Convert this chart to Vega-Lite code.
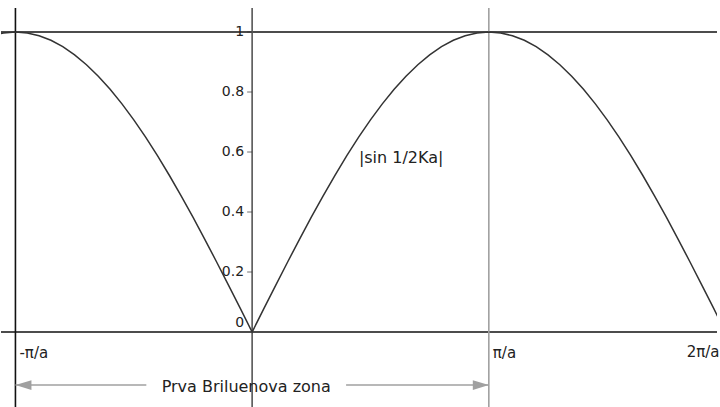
{
  "$schema": "https://vega.github.io/schema/vega-lite/v6.json",
  "width": 720,
  "height": 407,
  "autosize": {"type": "fit", "contains": "padding"},
  "padding": 0,
  "background": "white",
  "config": {"view": {"stroke": null}, "font": "DejaVu Sans"},
  "datasets": {
    "curve": [
      {"k": -1.10, "v": 0.9877}, {"k": -1.05, "v": 0.9969}, {"k": -1.00, "v": 1.0},
      {"k": -0.95, "v": 0.9969}, {"k": -0.90, "v": 0.9877}, {"k": -0.85, "v": 0.9724},
      {"k": -0.80, "v": 0.9511}, {"k": -0.75, "v": 0.9239}, {"k": -0.70, "v": 0.8910},
      {"k": -0.65, "v": 0.8526}, {"k": -0.60, "v": 0.8090}, {"k": -0.55, "v": 0.7604},
      {"k": -0.50, "v": 0.7071}, {"k": -0.45, "v": 0.6494}, {"k": -0.40, "v": 0.5878},
      {"k": -0.35, "v": 0.5225}, {"k": -0.30, "v": 0.4540}, {"k": -0.25, "v": 0.3827},
      {"k": -0.20, "v": 0.3090}, {"k": -0.15, "v": 0.2334}, {"k": -0.10, "v": 0.1564},
      {"k": -0.05, "v": 0.0785}, {"k": 0.00, "v": 0.0},
      {"k": 0.05, "v": 0.0785}, {"k": 0.10, "v": 0.1564}, {"k": 0.15, "v": 0.2334},
      {"k": 0.20, "v": 0.3090}, {"k": 0.25, "v": 0.3827}, {"k": 0.30, "v": 0.4540},
      {"k": 0.35, "v": 0.5225}, {"k": 0.40, "v": 0.5878}, {"k": 0.45, "v": 0.6494},
      {"k": 0.50, "v": 0.7071}, {"k": 0.55, "v": 0.7604}, {"k": 0.60, "v": 0.8090},
      {"k": 0.65, "v": 0.8526}, {"k": 0.70, "v": 0.8910}, {"k": 0.75, "v": 0.9239},
      {"k": 0.80, "v": 0.9511}, {"k": 0.85, "v": 0.9724}, {"k": 0.90, "v": 0.9877},
      {"k": 0.95, "v": 0.9969}, {"k": 1.00, "v": 1.0}, {"k": 1.05, "v": 0.9969},
      {"k": 1.10, "v": 0.9877}, {"k": 1.15, "v": 0.9724}, {"k": 1.20, "v": 0.9511},
      {"k": 1.25, "v": 0.9239}, {"k": 1.30, "v": 0.8910}, {"k": 1.35, "v": 0.8526},
      {"k": 1.40, "v": 0.8090}, {"k": 1.45, "v": 0.7604}, {"k": 1.50, "v": 0.7071},
      {"k": 1.55, "v": 0.6494}, {"k": 1.60, "v": 0.5878}, {"k": 1.65, "v": 0.5225},
      {"k": 1.70, "v": 0.4540}, {"k": 1.75, "v": 0.3827}, {"k": 1.80, "v": 0.3090},
      {"k": 1.85, "v": 0.2334}, {"k": 1.90, "v": 0.1564}, {"k": 1.95, "v": 0.0785},
      {"k": 2.00, "v": 0.0}
    ],
    "hlines": [{"v": 0}, {"v": 1}],
    "vlines": [
      {"k": -1, "from": -0.3, "to": 1.08, "kind": "edge"},
      {"k": 0, "from": -0.3, "to": 1.08, "kind": "axis"},
      {"k": 1, "from": -0.3, "to": 1.08, "kind": "zone"}
    ],
    "yticks": [
      {"v": 0.2, "t": "0.2"}, {"v": 0.4, "t": "0.4"}, {"v": 0.6, "t": "0.6"},
      {"v": 0.8, "t": "0.8"}, {"v": 1, "t": "1"}
    ],
    "xticks": [{"k": -1, "t": "-π/a"}, {"k": 1, "t": "π/a"}],
    "arrow": [
      {"from": -1, "to": -0.447, "v": -0.177},
      {"from": 0.397, "to": 1, "v": -0.177}
    ]
  },
  "encoding": {
    "x": {"type": "quantitative", "scale": {"domain": [-1.061, 1.964], "nice": false, "zero": false}, "axis": null},
    "y": {"type": "quantitative", "scale": {"domain": [-0.25, 1.1067], "nice": false, "zero": false}, "axis": null}
  },
  "layer": [
    {
      "data": {"name": "hlines"},
      "mark": {"type": "rule", "color": "#111", "strokeWidth": 1.6},
      "encoding": {"y": {"field": "v", "type": "quantitative"}}
    },
    {
      "data": {"name": "vlines"},
      "mark": {"type": "rule", "strokeWidth": 1.6, "clip": true},
      "encoding": {
        "x": {"field": "k", "type": "quantitative"},
        "y": {"field": "from", "type": "quantitative"},
        "y2": {"field": "to"},
        "color": {
          "field": "kind", "type": "nominal", "legend": null,
          "scale": {"domain": ["edge", "axis", "zone"], "range": ["#111111", "#555555", "#a0a0a0"]}
        }
      }
    },
    {
      "data": {"name": "curve"},
      "mark": {"type": "line", "color": "#333", "strokeWidth": 1.5, "clip": true},
      "encoding": {
        "x": {"field": "k", "type": "quantitative"},
        "y": {"field": "v", "type": "quantitative"}
      }
    },
    {
      "data": {"name": "yticks"},
      "mark": {"type": "tick", "orient": "horizontal", "size": 5, "thickness": 1, "color": "#333", "xOffset": -2.5},
      "encoding": {
        "x": {"datum": 0, "type": "quantitative"},
        "y": {"field": "v", "type": "quantitative"}
      }
    },
    {
      "data": {"name": "yticks"},
      "mark": {"type": "text", "align": "right", "baseline": "middle", "dx": -8, "fontSize": 14, "color": "#222"},
      "encoding": {
        "x": {"datum": 0, "type": "quantitative"},
        "y": {"field": "v", "type": "quantitative"},
        "text": {"field": "t"}
      }
    },
    {
      "data": {"values": [{"v": 0, "t": "0"}]},
      "mark": {"type": "text", "align": "right", "baseline": "bottom", "dx": -8, "dy": -2, "fontSize": 14, "color": "#222"},
      "encoding": {
        "x": {"datum": 0, "type": "quantitative"},
        "y": {"field": "v", "type": "quantitative"},
        "text": {"field": "t"}
      }
    },
    {
      "data": {"name": "xticks"},
      "mark": {"type": "text", "align": "left", "baseline": "middle", "dx": 4, "dy": 21, "fontSize": 15, "color": "#222"},
      "encoding": {
        "x": {"field": "k", "type": "quantitative"},
        "y": {"datum": 0, "type": "quantitative"},
        "text": {"field": "t"}
      }
    },
    {
      "data": {"values": [{"k": 2, "t": "2π/a"}]},
      "mark": {"type": "text", "align": "right", "baseline": "middle", "dx": -6, "dy": 20, "fontSize": 15, "color": "#222"},
      "encoding": {
        "x": {"field": "k", "type": "quantitative"},
        "y": {"datum": 0, "type": "quantitative"},
        "text": {"field": "t"}
      }
    },
    {
      "data": {"values": [{"k": 0.451, "v": 0.58, "t": "|sin 1/2Ka|"}]},
      "mark": {"type": "text", "align": "left", "baseline": "middle", "fontSize": 16, "color": "#222"},
      "encoding": {
        "x": {"field": "k", "type": "quantitative"},
        "y": {"field": "v", "type": "quantitative"},
        "text": {"field": "t"}
      }
    },
    {
      "data": {"name": "arrow"},
      "mark": {"type": "rule", "color": "#a0a0a0", "strokeWidth": 1.5},
      "encoding": {
        "x": {"field": "from", "type": "quantitative"},
        "x2": {"field": "to"},
        "y": {"field": "v", "type": "quantitative"}
      }
    },
    {
      "data": {"values": [{"k": -1, "v": -0.177}]},
      "mark": {"type": "point", "shape": "M0,0 L1,-0.3 L1,0.3 Z", "size": 1024, "filled": true, "color": "#a0a0a0", "opacity": 1},
      "encoding": {
        "x": {"field": "k", "type": "quantitative"},
        "y": {"field": "v", "type": "quantitative"}
      }
    },
    {
      "data": {"values": [{"k": 1, "v": -0.177}]},
      "mark": {"type": "point", "shape": "M0,0 L-1,-0.3 L-1,0.3 Z", "size": 1024, "filled": true, "color": "#a0a0a0", "opacity": 1},
      "encoding": {
        "x": {"field": "k", "type": "quantitative"},
        "y": {"field": "v", "type": "quantitative"}
      }
    },
    {
      "data": {"values": [{"k": -0.025, "v": -0.183, "t": "Prva Briluenova zona"}]},
      "mark": {"type": "text", "align": "center", "baseline": "middle", "fontSize": 16, "color": "#222"},
      "encoding": {
        "x": {"field": "k", "type": "quantitative"},
        "y": {"field": "v", "type": "quantitative"},
        "text": {"field": "t"}
      }
    }
  ]
}
